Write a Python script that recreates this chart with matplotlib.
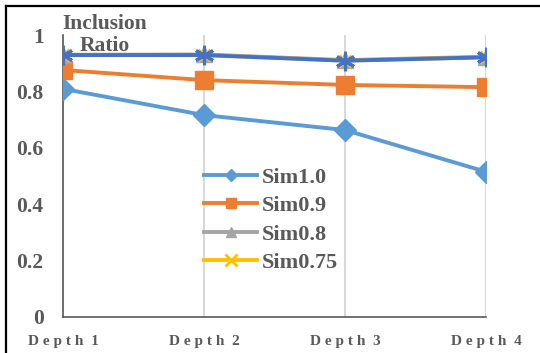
import matplotlib.pyplot as plt
from matplotlib.lines import Line2D

depths = ["D e p t h  1", "D e p t h  2", "D e p t h  3", "D e p t h  4"]
sim10 = [0.809, 0.716, 0.663, 0.515]
sim09 = [0.876, 0.840, 0.823, 0.815]
sim08 = [0.930, 0.931, 0.911, 0.923]
sim075 = [0.929, 0.929, 0.909, 0.921]
sim_star = [0.929, 0.929, 0.909, 0.921]

txt = "#595959"
plt.rcParams['font.family'] = ['Liberation Serif', 'DejaVu Serif']
plt.rcParams['font.weight'] = 'bold'

fig = plt.figure(figsize=(5.4, 3.53), dpi=100)
ax = fig.add_axes([0.1167, 0.102, 0.7833, 0.7988])

x = list(range(len(depths)))
lw = 2.8
ax.plot(x, sim10, color="#5B9BD5", lw=lw, marker="D", ms=11, label="Sim1.0", zorder=3)
ax.plot(x, sim09, color="#ED7D31", lw=lw, marker="s", ms=13, label="Sim0.9", zorder=3)
ax.plot(x, sim08, color="#A5A5A5", lw=lw, marker="^", ms=11, label="Sim0.8", zorder=3)
ax.plot(x, sim075, color="#FFC000", lw=lw, marker="x", ms=8, mew=2, label="Sim0.75", zorder=3)
ax.plot(x, sim_star, color="#4472C4", lw=lw, marker=(6, 2, 0), ms=14, mew=2.2, zorder=4)

ax.set_xlim(0, 3)
ax.set_ylim(0, 1)
ax.set_xticks(x)
ax.set_xticklabels(depths)
ax.set_yticks([0, 0.2, 0.4, 0.6, 0.8, 1])
ax.set_yticklabels(["0", "0.2", "0.4", "0.6", "0.8", "1"])
ax.tick_params(axis="y", length=0, pad=14, labelsize=15.5, labelcolor=txt)
ax.tick_params(axis="x", length=0, pad=13, labelsize=11, labelcolor=txt)
ax.grid(axis="x", color="#d9d9d9", lw=1.5)
ax.grid(axis="y", visible=False)
for s in ["top", "right"]:
    ax.spines[s].set_visible(False)
for s in ["left", "bottom"]:
    ax.spines[s].set_color("#595959")
    ax.spines[s].set_linewidth(1.2)

ax.text(0.099, 1.0, "Inclusion\nRatio", transform=ax.transAxes, ha="center",
        va="center", fontsize=15.5, color=txt, linespacing=1.12, zorder=5)

leg = ax.legend(loc="upper left", bbox_to_anchor=(0.333, 0.532), frameon=False,
                fontsize=16, handlelength=2.4, handletextpad=0.2, markerscale=0.6,
                labelspacing=0.36, borderpad=0, borderaxespad=0)
for t in leg.get_texts():
    t.set_color(txt)
# legend x marker was shrunk with the plot marker, keep it readable
leg.legend_handles[3].set_markersize(8)

fig.add_artist(Line2D([0.011, 1], [0.983, 0.983], color="black", lw=1.6))
fig.add_artist(Line2D([0.012, 0.012], [0, 0.983], color="black", lw=1.6))

fig.savefig("out.png", dpi=100)
